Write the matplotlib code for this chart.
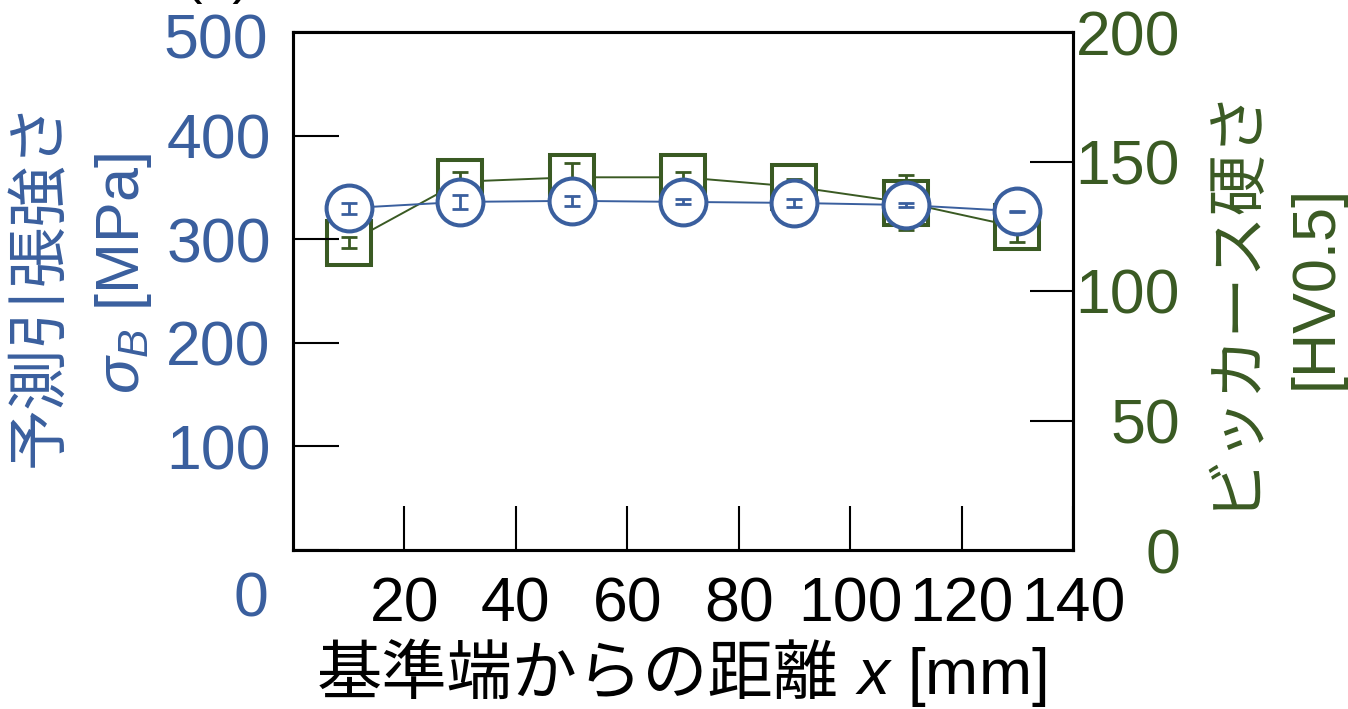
import matplotlib
matplotlib.use("Agg")
import matplotlib.pyplot as plt

plt.rcParams["font.family"] = ["Liberation Sans", "Noto Sans CJK JP"]
plt.rcParams["mathtext.fontset"] = "custom"
plt.rcParams["mathtext.rm"] = "Liberation Sans"
plt.rcParams["mathtext.it"] = "Liberation Sans:italic"
plt.rcParams["mathtext.sf"] = "Liberation Sans"

# 測定位置と各点の値
position_mm = [10, 30, 50, 70, 90, 110, 130]
strength_mpa = [330, 336, 337, 336, 335, 333, 327]
strength_err = [5.3, 6.8, 4.8, 2.4, 3.7, 2.4, 0.6]
hardness_hv = [118.7, 142.2, 143.9, 143.9, 140.3, 134.1, 124.7]
hardness_err = [2.0, 3.6, 5.4, 2.0, 2.9, 10.6, 5.9]

x_ticks = [20, 40, 60, 80, 100, 120, 140]
left_ticks = [0, 100, 200, 300, 400, 500]
right_ticks = [0, 50, 100, 150, 200]

BLUE = "#3A5F9E"
GREEN = "#3A5A23"
FS_TICK = 45
FS_LABEL = 44
W, H = 1348, 709

fig = plt.figure(figsize=(W / 100, H / 100), dpi=100)
ax = fig.add_axes([293 / W, 1 - 550 / H, 780 / W, 518 / H])
ax2 = ax.twinx()
# 強さの系列を硬さの系列より手前に描く
ax.set_zorder(ax2.get_zorder() + 1)
ax.patch.set_visible(False)

# ビッカース硬さ（右軸）
ax2.plot(position_mm, hardness_hv, color=GREEN, lw=1.4, marker="s", ms=32,
         mfc="white", mec=GREEN, mew=2.9, zorder=2)
ax2.errorbar(position_mm, hardness_hv, yerr=hardness_err, fmt="none",
             ecolor=GREEN, elinewidth=2.0, capsize=6, capthick=2.0, zorder=3)

# 予測引張強さ（左軸）
ax.plot(position_mm, strength_mpa, color=BLUE, lw=1.4, marker="o", ms=33,
        mfc="white", mec=BLUE, mew=2.9, zorder=2)
ax.errorbar(position_mm, strength_mpa, yerr=strength_err, fmt="none",
            ecolor=BLUE, elinewidth=2.0, capsize=6, capthick=2.0, zorder=3)

ax.set_xlim(0, 140)
ax.set_ylim(0, 500)
ax2.set_ylim(0, 200)

ax.set_xticks(x_ticks)
ax.set_xticklabels([str(v) for v in x_ticks])
ax.set_yticks(left_ticks)
ax.set_yticklabels(["" if v in (0, 500) else str(v) for v in left_ticks])
ax2.set_yticks(right_ticks)
ax2.set_yticklabels([str(v) for v in right_ticks])

ax.tick_params(axis="x", direction="in", length=32, width=1.5, pad=18,
               labelsize=FS_TICK, colors="black", top=False)
ax.tick_params(axis="y", direction="in", length=33, width=1.5, pad=16,
               labelsize=FS_TICK, labelcolor=BLUE, color="black", right=False)
ax2.tick_params(axis="y", direction="in", length=31, width=1.5, pad=77,
                labelsize=FS_TICK, labelcolor=GREEN, color="black")
for lbl in ax2.get_yticklabels():
    lbl.set_horizontalalignment("right")

for a in (ax, ax2):
    for sp in a.spines.values():
        sp.set_linewidth(2.2)
        sp.set_color("black")

# 0 と 500 の目盛ラベルは軸端からずらして置く
ax.text(-0.032, 0.981, "500", transform=ax.transAxes, ha="right",
        va="center", fontsize=FS_TICK, color=BLUE)
ax.text(-0.032, -0.097, "0", transform=ax.transAxes, ha="right",
        va="center", fontsize=FS_TICK, color=BLUE)

# 横軸ラベル（和文と斜体の x を分けて描く）
ax.text(0.699, -0.278, "基準端からの距離", transform=ax.transAxes,
        ha="right", va="baseline", fontsize=47, color="black")
ax.text(0.7205, -0.278, "$x$ [mm]", transform=ax.transAxes,
        ha="left", va="baseline", fontsize=46, color="black")

# 縦軸ラベル（2 行を行ごとに配置）
def side_label(px, py, s, color):
    fig.text(px / W, 1 - py / H, s, rotation=90, ha="center", va="center",
             fontsize=FS_LABEL, color=color)

side_label(42, 284, "予測引張強さ", BLUE)
side_label(124, 273, "$\\sigma_B$ [MPa]", BLUE)
side_label(1233, 295, "ビッカース硬さ", GREEN)
side_label(1316, 287, "[HV0.5]", GREEN)

fig.text(0.161, 1.011, "(a)", fontsize=40, color="black", ha="center",
         va="baseline")

fig.savefig("out.png", dpi=100)
plt.close(fig)
